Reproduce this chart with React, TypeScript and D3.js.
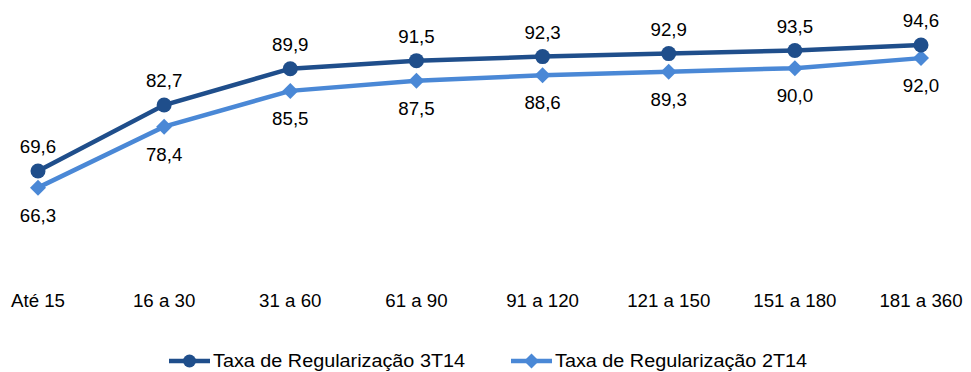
import { useEffect, useRef } from 'react'
import * as d3 from 'd3'

const categories = ['Até 15', '16 a 30', '31 a 60', '61 a 90', '91 a 120', '121 a 150', '151 a 180', '181 a 360']
const serie3T14 = [69.6, 82.7, 89.9, 91.5, 92.3, 92.9, 93.5, 94.6]
const serie2T14 = [66.3, 78.4, 85.5, 87.5, 88.6, 89.3, 90.0, 92.0]
const seriesNames = ['Taxa de Regularização 3T14', 'Taxa de Regularização 2T14']
const DARK = '#1f4e8b'
const LIGHT = '#4a88d6'

const fmt = (v: number) => v.toFixed(1).replace('.', ',')

export default function App() {
  const ref = useRef<SVGSVGElement>(null)
  useEffect(() => {
    if (!ref.current) return
    const W = 971, H = 372
    const svg = d3.select(ref.current)
    svg.selectAll('*').remove()
    const font = 'Liberation Sans, Arial, sans-serif'
    const fs = '18.7px'

    const x = d3.scalePoint<string>().domain(categories).range([38, 921])
    const y = d3.scaleLinear().domain([60, 100]).range([219.4, 17.8])

    const line = d3.line<number>().x((_, i) => x(categories[i])!).y(d => y(d))

    const series = [
      { name: seriesNames[0], values: serie3T14, color: DARK, shape: 'circle', above: true },
      { name: seriesNames[1], values: serie2T14, color: LIGHT, shape: 'diamond', above: false },
    ]

    const drawMarker = (g: d3.Selection<SVGGElement, unknown, null, undefined>, cx: number, cy: number, shape: string, color: string, sz: number) => {
      if (shape === 'circle') g.append('circle').attr('cx', cx).attr('cy', cy).attr('r', sz).attr('fill', color)
      else g.append('path').attr('d', `M${cx},${cy - sz}L${cx + sz},${cy}L${cx},${cy + sz}L${cx - sz},${cy}Z`).attr('fill', color)
    }

    // lighter series first so the dark one sits on top
    ;[...series].reverse().forEach(s => {
      const g = svg.append('g')
      g.append('path').attr('d', line(s.values)).attr('fill', 'none').attr('stroke', s.color).attr('stroke-width', 4.5)
      s.values.forEach((v, i) => drawMarker(g, x(categories[i])!, y(v), s.shape, s.color, s.shape === 'circle' ? 7.5 : 8))
    })

    series.forEach(s => {
      svg.append('g').selectAll('text').data(s.values).join('text')
        .attr('x', (_, i) => x(categories[i])!)
        .attr('y', d => y(d) + (s.above ? -18 : 34))
        .attr('text-anchor', 'middle')
        .style('font-family', font).style('font-size', fs).style('fill', '#000')
        .text(d => fmt(d))
    })

    svg.append('g').selectAll('text').data(categories).join('text')
      .attr('x', d => x(d)!)
      .attr('y', 307)
      .attr('text-anchor', 'middle')
      .style('font-family', font).style('font-size', fs).style('fill', '#000')
      .text(d => d)

    // legend
    const legendX = [169, 511]
    series.forEach((s, i) => {
      const g = svg.append('g')
      const lx = legendX[i]
      g.append('line').attr('x1', lx).attr('x2', lx + 41).attr('y1', 361).attr('y2', 361).attr('stroke', s.color).attr('stroke-width', 4.5)
      drawMarker(g, lx + 20.5, 361, s.shape, s.color, s.shape === 'circle' ? 6.5 : 7.5)
      g.append('text').attr('x', lx + 44).attr('y', 367)
        .attr('textLength', 252).attr('lengthAdjust', 'spacingAndGlyphs')
        .style('font-family', font).style('font-size', fs).style('fill', '#000')
        .text(s.name)
    })
    svg.attr('width', W).attr('height', H)
  }, [])
  return (
    <div style={{ position: 'absolute', left: 0, top: 0, background: '#fff' }}>
      <svg ref={ref} width={971} height={372} style={{ display: 'block' }} />
    </div>
  )
}
